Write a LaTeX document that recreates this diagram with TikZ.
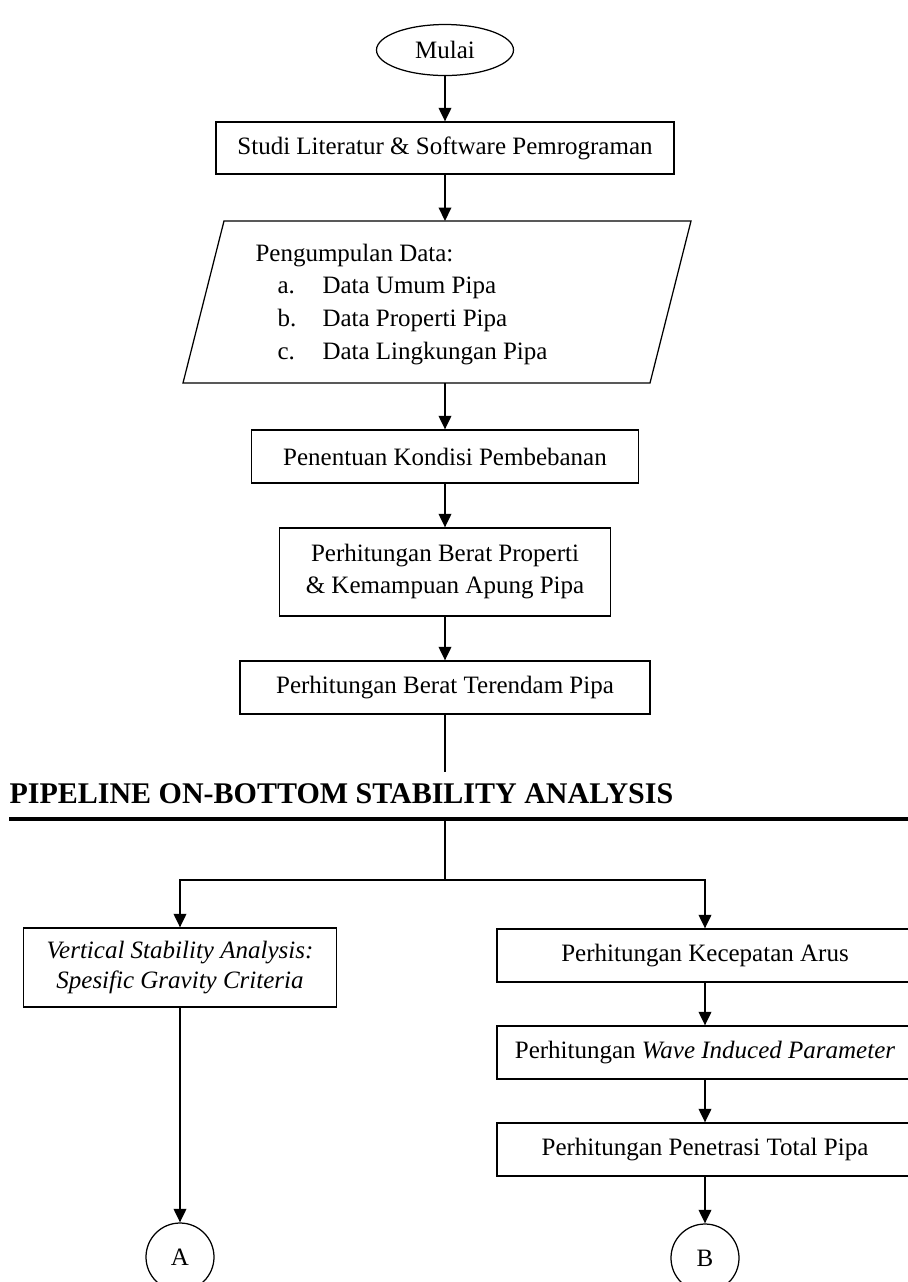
\documentclass[tikz,border=0pt]{standalone}
\usepackage{fontspec}
\setmainfont{Liberation Serif}
\usetikzlibrary{arrows.meta,shapes.geometric}
\newcommand\pxu{0.4pt}
\begin{document}
\begin{tikzpicture}[x=0.4pt,y=-0.4pt,
  font=\fontsize{10}{12.8}\selectfont,
  box/.style={draw,line width=0.5pt,inner sep=0pt,align=center},
  conn/.style={line width=0.8pt},
  arr/.style={conn,-{Triangle[length=5.4pt,width=5pt]}},
  txt/.style={inner sep=0pt,anchor=base west}]
\useasboundingbox (0,0) rectangle (908,1282);

% main column
\node[draw,ellipse,line width=0.5pt,minimum width=137*\pxu,minimum height=51*\pxu,inner sep=0pt] (mulai) at (445,50) {Mulai};
\node[box,minimum width=458*\pxu,minimum height=52*\pxu] (studi) at (445,148) {Studi Literatur \& Software Pemrograman};

% input parallelogram
\coordinate (ptl) at (224,221);
\coordinate (ptr) at (691,221);
\coordinate (pbr) at (650,383);
\coordinate (pbl) at (183,383);
\draw[line width=0.5pt] (ptl) -- (ptr) -- (pbr) -- (pbl) -- cycle;
\coordinate (dtop) at (445,221);
\coordinate (dbot) at (445,383);
\node[txt] (d0) at (255,261) {Pengumpulan Data:};
\node[txt] (d1a) at (277,293) {a.};
\node[txt] (d1b) at (322,293) {Data Umum Pipa};
\node[txt] (d2a) at (277,326) {b.};
\node[txt] (d2b) at (322,326) {Data Properti Pipa};
\node[txt] (d3a) at (277,359) {c.};
\node[txt] (d3b) at (322,359) {Data Lingkungan Pipa};

\node[box,minimum width=387*\pxu,minimum height=53*\pxu] (beban) at (445,456.5) {Penentuan Kondisi Pembebanan};
\node[box,minimum width=331*\pxu,minimum height=88*\pxu] (apung) at (445,572) {Perhitungan Berat Properti\\\& Kemampuan Apung Pipa};
\node[box,minimum width=410*\pxu,minimum height=53*\pxu] (rendam) at (445,687.5) {Perhitungan Berat Terendam Pipa};

\draw[arr] (mulai.south) -- (studi.north);
\draw[arr] (studi.south) -- (dtop);
\draw[arr] (dbot) -- (beban.north);
\draw[arr] (beban.south) -- (apung.north);
\draw[arr] (apung.south) -- (rendam.north);
\coordinate (t1) at (445,772);
\draw[conn] (rendam.south) -- (t1);

% section heading and rule
\node[txt,font=\bfseries\fontsize{12}{14}\selectfont] (title) at (9,803) {PIPELINE ON-BOTTOM STABILITY ANALYSIS};
\coordinate (r1) at (9,819);
\coordinate (r2) at (908,819);
\draw[line width=1.3pt] (r1) -- (r2);

% branches
\coordinate (t2) at (445,819);
\coordinate (j) at (445,880);
\node[box,minimum width=313*\pxu,minimum height=79*\pxu,font=\itshape\fontsize{10}{12}\selectfont] (vsa) at (180,967.5) {Vertical Stability Analysis:\\Spesific Gravity Criteria};
\node[box,minimum width=416*\pxu,minimum height=53*\pxu] (arus) at (705,955.5) {Perhitungan Kecepatan Arus};
\node[box,minimum width=416*\pxu,minimum height=53*\pxu] (wave) at (705,1052.5) {Perhitungan \textit{Wave Induced Parameter}};
\node[box,minimum width=416*\pxu,minimum height=53*\pxu] (pen) at (705,1149.5) {Perhitungan Penetrasi Total Pipa};
\node[draw,circle,line width=0.5pt,minimum size=68*\pxu,inner sep=0pt] (A) at (180,1257) {A};
\node[draw,circle,line width=0.5pt,minimum size=68*\pxu,inner sep=0pt] (B) at (705,1258) {B};

\draw[conn] (t2) -- (j);
\draw[arr] (j) -| (vsa.north);
\draw[arr] (j) -| (arus.north);
\draw[arr] (arus.south) -- (wave.north);
\draw[arr] (wave.south) -- (pen.north);
\draw[arr] (pen.south) -- (B.north);
\draw[arr] (vsa.south) -- (A.north);
\end{tikzpicture}
\end{document}
